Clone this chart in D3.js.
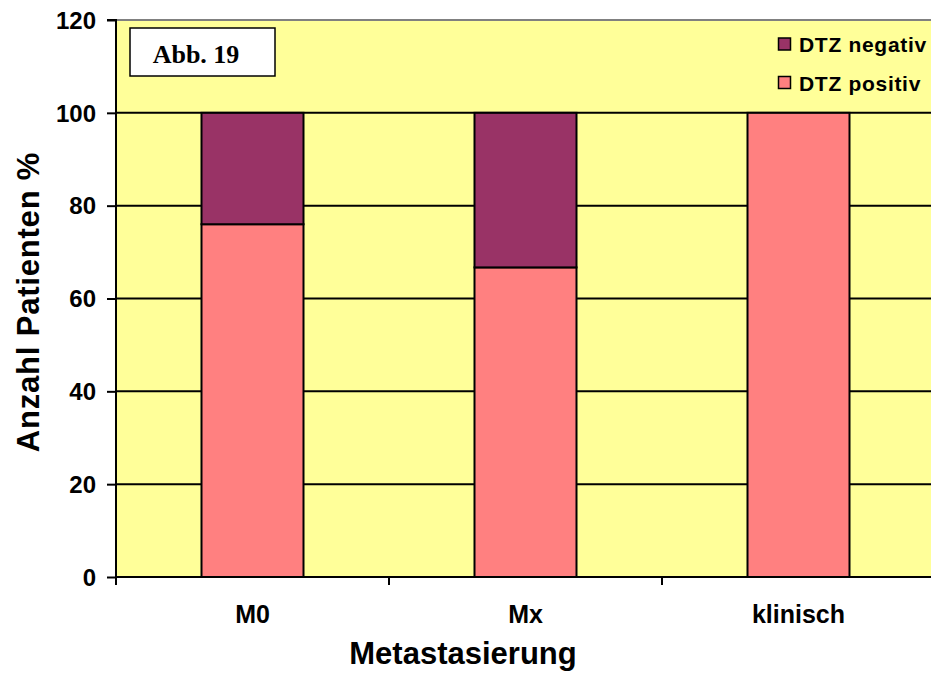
<!DOCTYPE html>
<html><head><meta charset="utf-8">
<script src="https://cdn.jsdelivr.net/npm/d3@7"></script>
<style>body{margin:0;background:#fff}svg{display:block}</style>
</head><body>
<svg id="c" width="931" height="673"></svg>
<script>
const categories = ["M0", "Mx", "klinisch"];
const dtzPositiv = [76, 66.7, 100];
const dtzNegativ = [24, 33.3, 0];
const yTicks = [0, 20, 40, 60, 80, 100, 120];
const seriesNames = ["DTZ negativ", "DTZ positiv"];
const seriesColors = ["#993366", "#FF8080"];

const svg = d3.select("#c");
const L = 116, T = 20, B = 577, R = 935;
const x = d3.scaleBand().domain(categories).range([L, R]).padding(0);
const y = d3.scaleLinear().domain([0, 120]).range([B, T]);
const barW = 102;
const FONT = "Arial, 'Liberation Sans', sans-serif";

// plot background
svg.append("rect").attr("x", L).attr("y", T).attr("width", R - L).attr("height", B - T).attr("fill", "#FFFF99");

// gridlines
svg.append("g").selectAll("line").data(yTicks.filter(d => d > 0 && d < 120)).join("line")
  .attr("x1", L).attr("x2", R).attr("y1", d => y(d)).attr("y2", d => y(d))
  .attr("stroke", "#000").attr("stroke-width", 2);
// top border
svg.append("line").attr("x1", L).attr("x2", R).attr("y1", y(120)).attr("y2", y(120))
  .attr("stroke", "#808080").attr("stroke-width", 2);

// stacked bars
const stackData = categories.map((c, i) => ({cat: c, pos: dtzPositiv[i], neg: dtzNegativ[i]}));
const stack = d3.stack().keys(["pos", "neg"])(stackData);
const colorByKey = {pos: seriesColors[1], neg: seriesColors[0]};
svg.append("g").selectAll("g").data(stack).join("g")
  .attr("fill", d => colorByKey[d.key])
  .selectAll("rect").data(d => d.filter(s => s[1] - s[0] > 0)).join("rect")
  .attr("x", d => x(d.data.cat) + x.bandwidth() / 2 - barW / 2)
  .attr("width", barW)
  .attr("y", d => y(d[1]))
  .attr("height", d => y(d[0]) - y(d[1]))
  .attr("stroke", "#000").attr("stroke-width", 2);

// y axis
const yAxis = d3.axisLeft(y).tickValues(yTicks).tickSize(9).tickPadding(11);
const ga = svg.append("g").attr("transform", `translate(${L},0)`).call(yAxis);
ga.select(".domain").attr("stroke", "#000").attr("stroke-width", 2).attr("d", `M-9,${T}H0V${B}`);
ga.selectAll(".tick line").attr("stroke", "#000").attr("stroke-width", 2);
ga.selectAll(".tick text").attr("font-family", FONT)
  .attr("font-weight", "bold").attr("font-size", 24).attr("fill", "#000").attr("dy", "0.34em");

// x axis
const xb = svg.append("g").attr("transform", `translate(0,${B})`);
xb.append("line").attr("x1", L).attr("x2", R).attr("stroke", "#000").attr("stroke-width", 2);
const bounds = categories.map(c => x(c));
xb.selectAll("line.t").data(bounds).join("line").attr("class", "t")
  .attr("x1", d => d).attr("x2", d => d).attr("y1", 0).attr("y2", 8)
  .attr("stroke", "#000").attr("stroke-width", 2);
xb.selectAll("text").data(categories).join("text")
  .attr("x", d => x(d) + x.bandwidth() / 2).attr("y", 46)
  .attr("text-anchor", "middle")
  .attr("font-family", FONT)
  .attr("font-weight", "bold").attr("font-size", 25).text(d => d);

// axis titles
svg.append("text").attr("x", 463).attr("y", 664).attr("text-anchor", "middle")
  .attr("font-family", FONT)
  .attr("font-weight", "bold").attr("font-size", 31).text("Metastasierung");
svg.append("text").attr("transform", "translate(39,302) rotate(-90)").attr("text-anchor", "middle")
  .attr("font-family", FONT)
  .attr("font-weight", "bold").attr("font-size", 31).attr("letter-spacing", 0.8).text("Anzahl Patienten %");

// Abb. 19 box
svg.append("rect").attr("x", 130).attr("y", 28).attr("width", 145).attr("height", 48)
  .attr("fill", "#fff").attr("stroke", "#000").attr("stroke-width", 1.5);
svg.append("text").attr("x", 196).attr("y", 63).attr("text-anchor", "middle")
  .attr("font-family", "'Times New Roman', 'Liberation Serif', serif")
  .attr("font-weight", "bold").attr("font-size", 26).text("Abb. 19");

// legend
const lg = svg.append("g");
seriesNames.forEach((n, i) => {
  const yy = 38 + i * 38.5;
  lg.append("rect").attr("x", 778.5).attr("y", yy).attr("width", 12).attr("height", 12)
    .attr("fill", seriesColors[i]).attr("stroke", "#000").attr("stroke-width", 1.5);
  lg.append("text").attr("x", 799).attr("y", yy + 14)
    .attr("font-family", FONT)
    .attr("font-weight", "bold").attr("font-size", 21).attr("letter-spacing", 0.7).text(n);
});
</script>
</body></html>
